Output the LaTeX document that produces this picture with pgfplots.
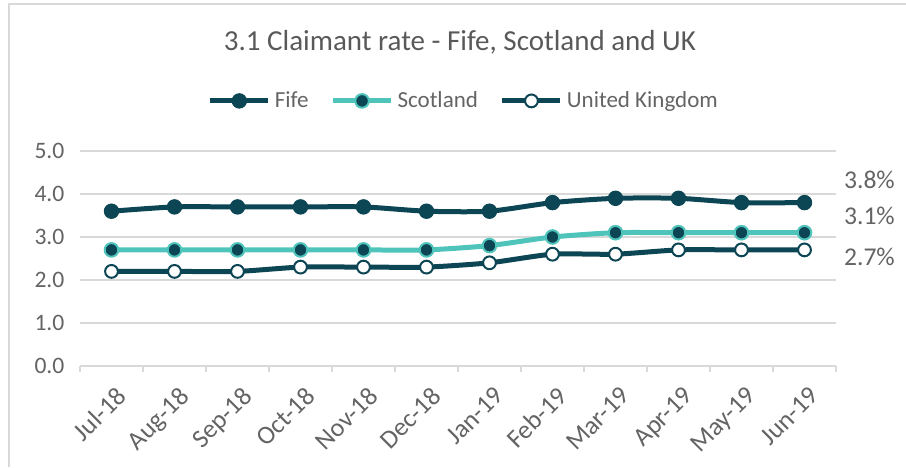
\documentclass[border=0pt]{standalone}
\usepackage{pgfplots}
\pgfplotsset{compat=1.18}
\usepackage{fontspec}
\setmainfont{Carlito}
\definecolor{dteal}{RGB}{12,69,84}
\definecolor{lteal}{RGB}{79,196,187}
\definecolor{txtgray}{RGB}{89,89,89}
\definecolor{lblgray}{RGB}{100,100,100}
\definecolor{gridgray}{RGB}{217,217,217}
\begin{document}
\begin{tikzpicture}[x=0.5pt,y=0.5pt]
\useasboundingbox (0,0) rectangle (906,467);
\draw[gridgray,line width=0.8pt] (9,0) -- (9,463) -- (906,463);
\node[txtgray,font=\fontsize{14.5}{16}\selectfont] at (460,425) {3.1 Claimant rate - Fife, Scotland and UK};
\begin{axis}[
  at={(40pt,50.5pt)}, anchor=south west,
  scale only axis, width=378pt, height=107.5pt,
  xmin=-0.5, xmax=11.5, ymin=0, ymax=5,
  clip=false,
  axis x line*=bottom, axis y line*=left,
  y axis line style={draw=none},
  x axis line style={gridgray, line width=0.8pt},
  xtick={0,...,11},
  xticklabels={Jul-18,Aug-18,Sep-18,Oct-18,Nov-18,Dec-18,Jan-19,Feb-19,Mar-19,Apr-19,May-19,Jun-19},
  major x tick style={draw=none},
  minor xtick={-0.5,0.5,...,11.5},
  minor x tick style={gridgray, line width=0.8pt},
  minor tick length=3pt,
  tick align=outside,
  x tick label style={rotate=45, anchor=north east, font=\fontsize{13}{15}\selectfont, text=lblgray, xshift=1pt, yshift=-1.5pt},
  ytick={0,1,...,5},
  y tick label style={font=\fontsize{11.8}{13}\selectfont, text=lblgray},
  ytick style={draw=none},
  yticklabel style={/pgf/number format/.cd, fixed, fixed zerofill, precision=1, assume math mode=true},
  ymajorgrids, grid style={gridgray, line width=0.8pt},
  legend style={at={(0.509,1.233)}, anchor=center, draw=none, fill=none,
    legend columns=-1, font=\fontsize{11.5}{13}\selectfont, text=lblgray,
    /tikz/every even column/.append style={column sep=9pt}},
  legend image code/.code={\draw[mark repeat=2,mark phase=2] plot coordinates {(0pt,0pt) (14.5pt,0pt) (29pt,0pt)};},
]
\addplot[dteal, line width=2.5pt, smooth, tension=0.4, mark=*, mark size=3.6pt, mark options={fill=dteal, draw=dteal, line width=0.5pt}]
 coordinates {(0,3.6)(1,3.7)(2,3.7)(3,3.7)(4,3.7)(5,3.6)(6,3.6)(7,3.8)(8,3.9)(9,3.9)(10,3.8)(11,3.8)};
\addlegendentry{Fife}
\addplot[lteal, line width=2.5pt, smooth, tension=0.4, mark=*, mark size=3.4pt, mark options={fill=dteal, draw=lteal, line width=1pt}]
 coordinates {(0,2.7)(1,2.7)(2,2.7)(3,2.7)(4,2.7)(5,2.7)(6,2.8)(7,3.0)(8,3.1)(9,3.1)(10,3.1)(11,3.1)};
\addlegendentry{Scotland}
\addplot[dteal, line width=2.5pt, smooth, tension=0.4, mark=*, mark size=3.2pt, mark options={fill=white, draw=dteal, line width=1pt}]
 coordinates {(0,2.2)(1,2.2)(2,2.2)(3,2.3)(4,2.3)(5,2.3)(6,2.4)(7,2.6)(8,2.6)(9,2.7)(10,2.7)(11,2.7)};
\addlegendentry{United Kingdom}
\node[anchor=west, text=lblgray, font=\fontsize{12.8}{14}\selectfont, xshift=0.5pt] at (axis cs:11.5,4.33) {3.8\%};
\node[anchor=west, text=lblgray, font=\fontsize{12.8}{14}\selectfont, xshift=0.5pt] at (axis cs:11.5,3.49) {3.1\%};
\node[anchor=west, text=lblgray, font=\fontsize{12.8}{14}\selectfont, xshift=0.5pt] at (axis cs:11.5,2.53) {2.7\%};
\end{axis}
\end{tikzpicture}
\end{document}
